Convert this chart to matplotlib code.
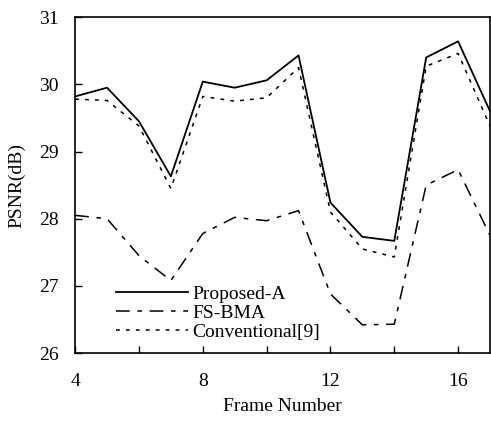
import matplotlib.pyplot as plt
import numpy as np

frames = [4, 5, 6, 7, 8, 9, 10, 11, 12, 13, 14, 15, 16, 17]
proposed_a = [29.82, 29.95, 29.45, 28.63, 30.04, 29.95, 30.06, 30.43,
              28.24, 27.73, 27.67, 30.40, 30.64, 29.60]
fs_bma = [28.05, 28.0, 27.45, 27.08, 27.78, 28.02, 27.97, 28.12,
          26.88, 26.42, 26.43, 28.50, 28.73, 27.75]
conventional = [29.78, 29.76, 29.38, 28.45, 29.82, 29.75, 29.80, 30.25,
                28.10, 27.55, 27.43, 30.27, 30.46, 29.38]

plt.rcParams['font.family'] = ['Liberation Serif', 'DejaVu Serif']

fig, ax = plt.subplots(figsize=(4.91, 4.29), dpi=100)
fig.subplots_adjust(left=0.153, right=0.998, top=0.96, bottom=0.177)

ax.plot(frames, proposed_a, color='black', linewidth=1.3, label='Proposed-A')
ax.plot(frames, fs_bma, color='black', linewidth=1.1,
        dashes=(9, 5, 3, 5), label='FS-BMA')
ax.plot(frames, conventional, color='black', linewidth=1.1,
        dashes=(2.5, 4), label='Conventional[9]')

ax.set_xlim(4, 17)
ax.set_ylim(26, 31)
ax.set_xticks([4, 8, 12, 16])
ax.set_xticks(np.arange(4, 17, 2), minor=True)
ax.set_yticks([26, 27, 28, 29, 30, 31])
ax.tick_params(direction='in', labelsize=14, length=5, width=1)
ax.tick_params(axis='x', pad=14)
ax.tick_params(axis='y', pad=12)
ax.tick_params(which='minor', direction='in', length=5, width=1)

ax.set_xlabel('Frame Number', fontsize=14, labelpad=6)
ax.set_ylabel('PSNR(dB)', fontsize=14, labelpad=10)

for s in ax.spines.values():
    s.set_linewidth(1.2)

ax.legend(loc='lower left', bbox_to_anchor=(0.065, -0.005), frameon=False,
          fontsize=14, handlelength=3.7, handletextpad=0.25,
          labelspacing=0.08, borderpad=0.2)

fig.savefig('out.png', dpi=100)
